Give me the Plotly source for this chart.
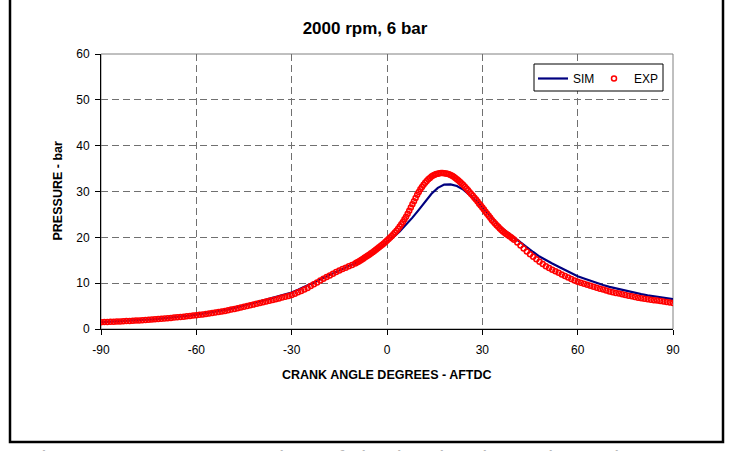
import plotly.graph_objects as go

# ---------------- data ----------------
exp_angle = list(range(-90, 91, 1))
exp_pressure = [
    # -90 .. -61
    1.50, 1.52, 1.55, 1.57, 1.60, 1.63, 1.66, 1.69, 1.72, 1.76,
    1.80, 1.84, 1.88, 1.92, 1.97, 2.02, 2.07, 2.12, 2.18, 2.24,
    2.30, 2.36, 2.42, 2.49, 2.56, 2.63, 2.70, 2.77, 2.85, 2.92,
    # -60 .. -31
    3.00, 3.09, 3.18, 3.28, 3.38, 3.48, 3.59, 3.70, 3.82, 3.95,
    4.08, 4.23, 4.38, 4.54, 4.70, 4.87, 5.03, 5.19, 5.35, 5.52,
    5.70, 5.86, 6.02, 6.18, 6.34, 6.50, 6.68, 6.86, 7.04, 7.22,
    # -30 .. -1
    7.42, 7.70, 8.00, 8.30, 8.62, 8.96, 9.36, 9.76, 10.16, 10.56,
    10.96, 11.34, 11.70, 12.06, 12.42, 12.78, 13.08, 13.38, 13.68, 13.98,
    14.30, 14.70, 15.12, 15.58, 16.04, 16.52, 17.02, 17.54, 18.10, 18.68,
    # 0 .. 29
    19.30, 19.95, 20.65, 21.45, 22.35, 23.35, 24.50, 25.80, 27.20, 28.60,
    29.90, 31.00, 31.90, 32.65, 33.25, 33.65, 33.90, 34.02, 34.00, 33.85,
    33.60, 33.20, 32.70, 32.10, 31.40, 30.65, 29.85, 29.05, 28.25, 27.35,
    # 30 .. 59
    26.50, 25.60, 24.70, 23.80, 23.00, 22.30, 21.60, 21.00, 20.50, 20.00,
    19.50, 18.85, 18.20, 17.55, 16.90, 16.30, 15.75, 15.20, 14.70, 14.20,
    13.70, 13.32, 12.95, 12.60, 12.25, 11.90, 11.57, 11.25, 10.93, 10.60,
    # 60 .. 90
    10.30, 10.08, 9.86, 9.64, 9.42, 9.20, 9.00, 8.80, 8.60, 8.40,
    8.20, 8.04, 7.88, 7.72, 7.56, 7.40, 7.26, 7.12, 6.98, 6.84,
    6.70, 6.60, 6.50, 6.40, 6.30, 6.20, 6.10, 6.00, 5.90, 5.80,
    5.70,
]
# extra half-degree EXP samples around the pressure peak (dense band there)
exp_angle_half = [a + 0.5 for a in range(-10, 40)]
exp_pressure_half = [
    14.50, 14.91, 15.35, 15.81, 16.28, 16.77, 17.28, 17.82, 18.39, 18.99,
    19.62, 20.30, 21.04, 21.90, 22.85, 23.92, 25.15, 26.50, 27.90, 29.27,
    30.47, 31.47, 32.30, 32.97, 33.47, 33.80, 33.98, 34.03, 33.94, 33.74,
    33.42, 32.97, 32.42, 31.76, 31.03, 30.25, 29.45, 28.65, 27.80, 26.92,
    26.05, 25.15, 24.25, 23.40, 22.65, 21.95, 21.30, 20.75, 20.25, 19.75,
]

sim_angle = list(range(-90, 91, 2))
sim_pressure = [
    # -90 .. -62
    1.50, 1.56, 1.62, 1.69, 1.76, 1.84, 1.93, 2.02, 2.12, 2.23,
    2.35, 2.48, 2.62, 2.77, 2.95,
    # -60 .. -32
    3.15, 3.35, 3.55, 3.78, 4.02, 4.28, 4.58, 4.92, 5.30, 5.65,
    6.02, 6.40, 6.80, 7.15, 7.55,
    # -30 .. -2
    7.95, 8.55, 9.20, 9.85, 10.55, 11.25, 11.95, 12.55, 13.15, 13.75,
    14.35, 15.05, 15.80, 16.70, 17.75,
    # 0 .. 28
    18.90, 20.05, 21.30, 22.70, 24.30, 26.00, 27.80, 29.50, 30.80, 31.50,
    31.55, 31.20, 30.40, 29.35, 28.10,
    # 30 .. 58
    26.60, 25.00, 23.50, 22.10, 21.00, 20.00, 19.00, 17.90, 16.80, 15.80,
    15.00, 14.30, 13.60, 12.90, 12.20,
    # 60 .. 90
    11.50, 11.00, 10.50, 10.05, 9.60, 9.20, 8.85, 8.50, 8.15, 7.85,
    7.60, 7.35, 7.10, 6.90, 6.70, 6.50,
]

x_ticks = [-90, -60, -30, 0, 30, 60, 90]
y_ticks = [0, 10, 20, 30, 40, 50, 60]

title_text = "2000 rpm, 6 bar"
x_title = "CRANK ANGLE DEGREES - AFTDC"
y_title = "PRESSURE - bar"

# ---------------- figure ----------------
W, H = 731, 451
L, R, T, B = 101, 58, 54, 122
PW, PH = W - L - R, H - T - B
FONT = "Liberation Sans, Arial, sans-serif"


def px(xp):
    return (xp - L) / PW


def py(yp):
    return (H - B - yp) / PH


# merge the EXP samples in angle order
exp_pairs = sorted(zip(exp_angle + exp_angle_half, exp_pressure + exp_pressure_half))
exp_x = [p[0] for p in exp_pairs]
exp_y = [p[1] for p in exp_pairs]

fig = go.Figure()
fig.add_trace(go.Scatter(
    x=sim_angle, y=sim_pressure, name="SIM", mode="lines",
    line=dict(color="#000080", width=2.2), legend="legend",
))
fig.add_trace(go.Scatter(
    x=exp_x, y=exp_y, name="EXP", mode="markers",
    marker=dict(symbol="circle-open", color="#ff0000", size=5,
                line=dict(color="#ff0000", width=1.5)),
    legend="legend2",
))

grid = dict(showgrid=True, gridcolor="#707070", gridwidth=1, griddash="7px,4px")

fig.update_xaxes(
    range=[-90, 90], tickvals=x_ticks, ticktext=[str(v) for v in x_ticks],
    showline=True, linecolor="black", linewidth=1,
    ticks="outside", ticklen=5, tickcolor="black", ticklabelstandoff=5,
    tickfont=dict(family=FONT, size=12, color="black"),
    zeroline=False, **grid,
)
fig.update_yaxes(
    range=[0, 60], tickvals=y_ticks, ticktext=[str(v) for v in y_ticks],
    showline=True, linecolor="black", linewidth=1,
    ticks="outside", ticklen=5, tickcolor="black", ticklabelstandoff=3,
    tickfont=dict(family=FONT, size=12, color="black"),
    zeroline=False, **grid,
)

shapes = [
    # plot-area frame (grey) on top/right
    dict(type="rect", xref="paper", yref="paper", x0=0, x1=1, y0=0, y1=1,
         line=dict(color="#808080", width=1), layer="below"),
    # legend box
    dict(type="rect", xref="paper", yref="paper",
         x0=px(534), x1=px(663), y0=py(91), y1=py(64),
         line=dict(color="black", width=1), fillcolor="white", layer="above"),
    # outer chart border (black)
    dict(type="rect", xref="paper", yref="paper",
         x0=px(10), x1=px(723), y0=py(442), y1=py(-10),
         line=dict(color="black", width=2.5)),
]

annotations = [
    dict(text=f"<b>{x_title}</b>", xref="paper", yref="paper",
         x=0.5, y=py(375), xanchor="center", yanchor="middle",
         showarrow=False, font=dict(family=FONT, size=12.5, color="black")),
    dict(text=f"<b>{y_title}</b>", xref="paper", yref="paper",
         x=px(57), y=0.5, xanchor="center", yanchor="middle", textangle=-90,
         showarrow=False, font=dict(family=FONT, size=12.5, color="black")),
    # caption below the chart, cut off by the picture edge
    dict(text="Figure", xref="paper", yref="paper",
         x=px(26), y=py(444), xanchor="left", yanchor="top",
         showarrow=False, font=dict(family=FONT, size=22, color="#b8b8b8")),
    dict(text="Comparison of simulated and experimental", xref="paper", yref="paper",
         x=px(199), y=py(444), xanchor="left", yanchor="top",
         showarrow=False, font=dict(family=FONT, size=22, color="#b8b8b8")),
]

leg_common = dict(orientation="h", xanchor="left", yanchor="top",
                  bgcolor="rgba(0,0,0,0)", borderwidth=0,
                  font=dict(family=FONT, size=12, color="black"), itemwidth=30)

fig.update_layout(
    width=W, height=H,
    margin=dict(l=L, r=R, t=T, b=B, pad=0),
    paper_bgcolor="white", plot_bgcolor="white",
    title=dict(text=f"<b>{title_text}</b>", xref="container", yref="container",
               x=365 / W, y=1 - 28 / H, xanchor="center", yanchor="middle",
               font=dict(family=FONT, size=17, color="black")),
    legend=dict(x=px(533), y=py(64), **leg_common),
    legend2=dict(x=px(594), y=py(64), **leg_common),
    showlegend=True,
    shapes=shapes,
    annotations=annotations,
)

fig.write_html("out.html")
